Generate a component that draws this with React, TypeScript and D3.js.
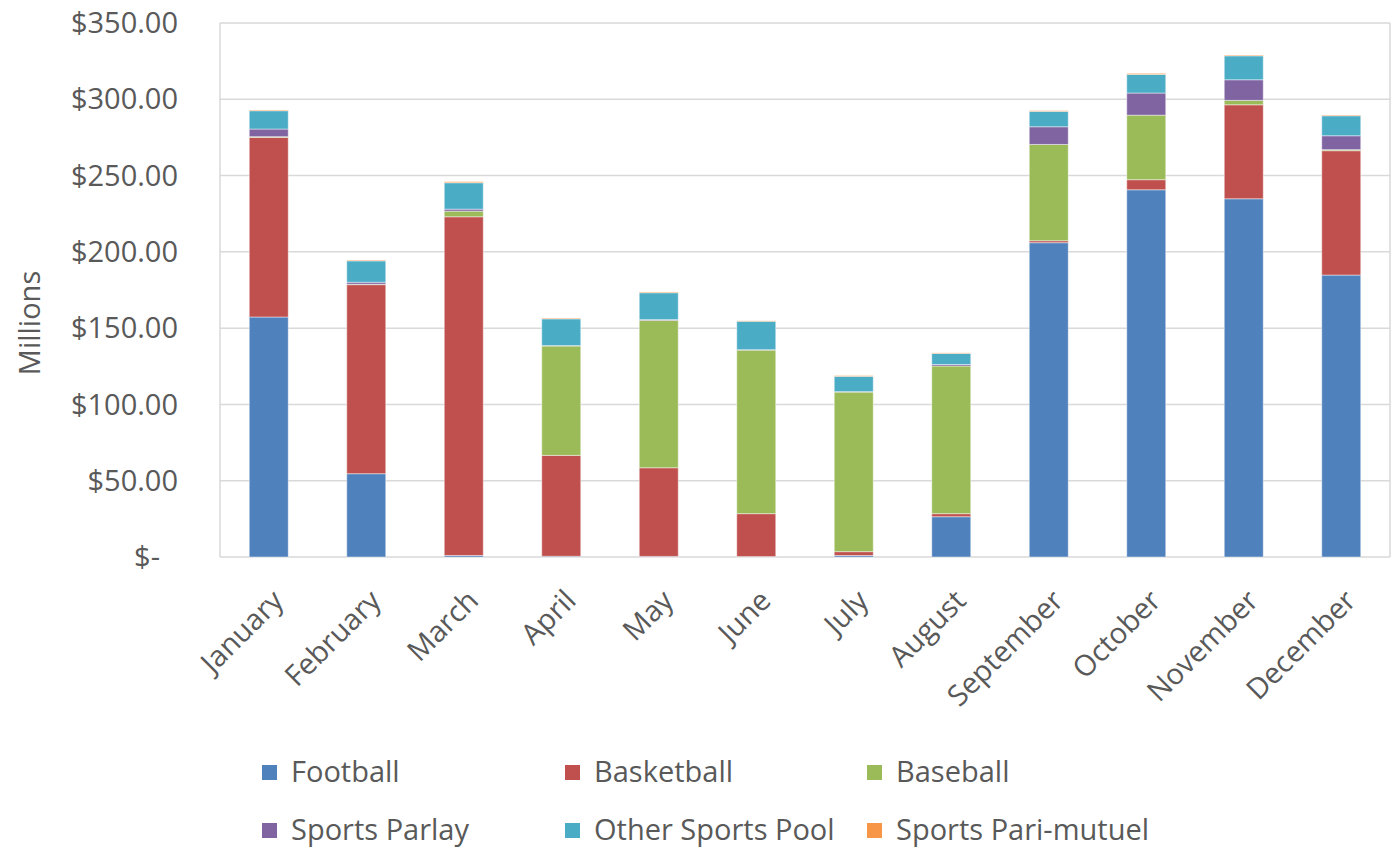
import React from "react";
import * as d3 from "d3";

const months = ["January","February","March","April","May","June","July","August","September","October","November","December"];
const seriesNames = ["Football","Basketball","Baseball","Sports Parlay","Other Sports Pool","Sports Pari-mutuel"];
const colors = ["#4f81bd","#c0504d","#9bbb59","#8064a2","#4bacc6","#f79646"];

// Monthly handle by sport, millions of dollars
const football =   [157.3, 54.6, 1.0, 0.5, 0.4, 0.3, 1.0, 26.4, 206.0, 240.7, 234.8, 184.8];
const basketball = [117.7, 123.9, 222.0, 66.1, 58.1, 28.1, 2.5, 2.0, 1.3, 6.6, 61.6, 81.5];
const baseball =   [0.5, 0.3, 3.7, 71.7, 96.6, 107.2, 104.6, 96.8, 63.1, 42.3, 2.9, 0.7];
const parlay =     [5.0, 1.3, 1.3, 0.3, 0.5, 0.3, 0.3, 1.0, 11.6, 14.5, 13.5, 9.1];
const otherPool =  [12.0, 14.0, 17.3, 17.5, 17.6, 18.6, 10.0, 7.2, 10.1, 12.2, 15.7, 13.1];
const pariMutuel = [0.5, 0.5, 0.7, 0.5, 0.5, 0.3, 0.5, 0.4, 0.5, 0.7, 0.5, 0.5];

const yTicks = [0, 50, 100, 150, 200, 250, 300, 350];

const W = 1398, H = 849;
const left = 220, right = 1390, top = 23, bottom = 557;
const font = "'Open Sans', 'Noto Sans', sans-serif";
const textColor = "#595959";
const fs = 29;

export default function App() {
  const seriesValues = [football, basketball, baseball, parlay, otherPool, pariMutuel];
  const rows = months.map((m, i) => {
    const r: Record<string, any> = { month: m };
    seriesNames.forEach((s, k) => (r[s] = seriesValues[k][i]));
    return r;
  });
  const stacked = d3.stack<any>().keys(seriesNames)(rows);

  const x = d3.scaleBand().domain(months).range([left, right]).paddingInner(0.6).paddingOuter(0.3);
  const y = d3.scaleLinear().domain([0, 350]).range([bottom, top]);

  const fmt = (v: number) => (v === 0 ? "$-" : "$" + d3.format(".2f")(v));

  const legendCols = [262, 565, 867];
  const legendRows = [772, 830];

  return (
    <svg width={W} height={H} style={{ position: "absolute", left: 0, top: 0, background: "#fff" }}>
      <rect x={0} y={0} width={W} height={H} fill="#fff" />
      {yTicks.map((t) => (
        <line key={t} x1={left} x2={right} y1={y(t)} y2={y(t)} stroke="#d9d9d9" strokeWidth={1.5} />
      ))}
      <line x1={left} x2={left} y1={top} y2={bottom} stroke="#d9d9d9" strokeWidth={1.5} />
      <line x1={right} x2={right} y1={top} y2={bottom} stroke="#d9d9d9" strokeWidth={1.5} />
      {yTicks.map((t) => (
        <text key={t} x={178} y={y(t)} dy="0.35em" textAnchor="end" fontFamily={font} fontSize={fs} fill={textColor}>
          {t === 0 ? (<tspan dx={-18}>{fmt(t)}</tspan>) : fmt(t)}
        </text>
      ))}
      <text transform={`translate(40,${(top + bottom) / 2 + 33}) rotate(-90)`} textAnchor="middle" fontFamily={font} fontSize={fs} fill={textColor}>
        Millions
      </text>
      {stacked.map((layer, k) => (
        <g key={layer.key} fill={colors[k]}>
          {layer.map((d, i) => (
            <rect
              key={i}
              x={x(months[i])!}
              width={x.bandwidth()}
              y={y(d[1])}
              height={Math.max(0, y(d[0]) - y(d[1]))}
              stroke="#ffffff"
              strokeOpacity={0.45}
              strokeWidth={1}
            />
          ))}
        </g>
      ))}
      {months.map((m) => {
        const cx = x(m)! + x.bandwidth() / 2;
        return (
          <text key={m} transform={`translate(${cx + 2},${588}) rotate(-45)`} textAnchor="end" dy="0.7em" fontFamily={font} fontSize={fs} fill={textColor}>
            {m}
          </text>
        );
      })}
      {seriesNames.map((s, k) => {
        const lx = legendCols[k % 3];
        const ly = legendRows[Math.floor(k / 3)];
        return (
          <g key={s}>
            <rect x={lx} y={ly - 7} width={15} height={15} fill={colors[k]} />
            <text x={lx + 29} y={ly} dy="0.35em" fontFamily={font} fontSize={fs} fill={textColor}>
              {s}
            </text>
          </g>
        );
      })}
    </svg>
  );
}
